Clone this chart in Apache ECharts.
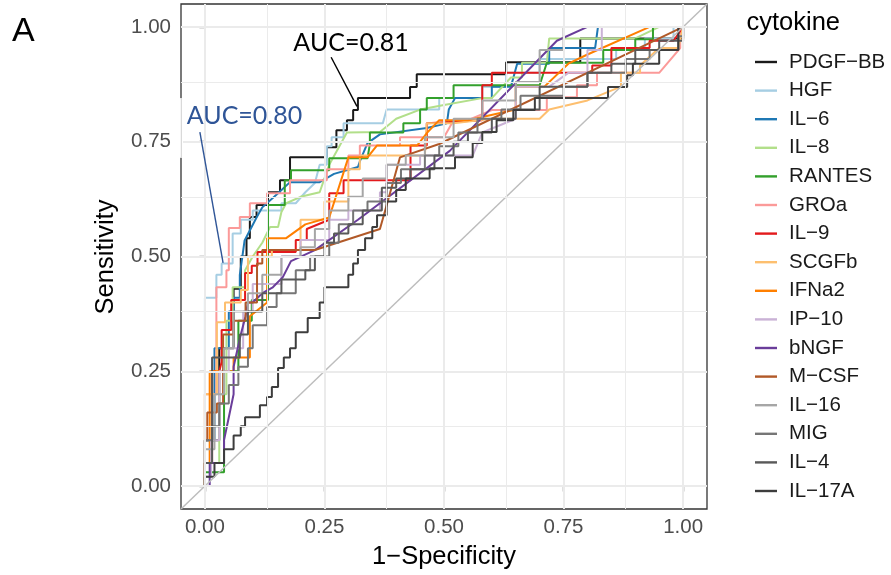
<!DOCTYPE html>
<html>
<head>
<meta charset="utf-8">
<script src="https://cdn.jsdelivr.net/npm/echarts@6/dist/echarts.min.js"></script>
<style>
  html, body { margin: 0; padding: 0; background: #ffffff; }
  #chart { width: 891px; height: 575px; }
</style>
</head>
<body>
<div id="chart"></div>
<script>
// ROC curves per cytokine: [1 - specificity, sensitivity]
const cytokines = ['PDGF\u2212BB', 'HGF', 'IL\u22126', 'IL\u22128', 'RANTES', 'GROa', 'IL\u22129', 'SCGFb',
  'IFNa2', 'IP\u221210', 'bNGF', 'M\u2212CSF', 'IL\u221216', 'MIG', 'IL\u22124', 'IL\u221217A'];
const lineColors = ['#1a1a1a', '#a6cee3', '#1f78b4', '#b2df8a', '#33a02c', '#fb9a99', '#e31a1c', '#fdbf6f',
  '#ff7f00', '#cab2d6', '#6a3d9a', '#b15928', '#a6a6a6', '#767676', '#595959', '#3d3d3d'];

const rocPDGFBB = [[0,0],[0,0.1],[0.03,0.1],[0.03,0.3],[0.06,0.3],[0.06,0.43],[0.075,0.43],[0.075,0.5],[0.087,0.5],[0.087,0.54],[0.094,0.54],[0.094,0.586],[0.108,0.586],[0.108,0.612],[0.132,0.612],[0.132,0.64],[0.157,0.64],[0.157,0.666],[0.178,0.666],[0.178,0.716],[0.255,0.716],[0.255,0.738],[0.275,0.738],[0.275,0.775],[0.297,0.775],[0.297,0.797],[0.31,0.797],[0.31,0.819],[0.32,0.819],[0.32,0.845],[0.429,0.845],[0.429,0.869],[0.443,0.869],[0.443,0.897],[0.63,0.897],[0.63,0.923],[0.785,0.923],[0.785,0.975],[1,0.975],[1,1]];
const rocHGF = [[0,0],[0,0.41],[0.024,0.41],[0.024,0.46],[0.035,0.46],[0.035,0.485],[0.058,0.485],[0.058,0.55],[0.075,0.55],[0.075,0.58],[0.1,0.58],[0.1,0.6],[0.16,0.6],[0.16,0.616],[0.19,0.616],[0.21,0.64],[0.23,0.66],[0.24,0.7],[0.255,0.7],[0.255,0.74],[0.265,0.74],[0.265,0.76],[0.29,0.76],[0.29,0.79],[0.372,0.79],[0.38,0.82],[0.49,0.82],[0.49,0.845],[0.58,0.845],[0.58,0.87],[0.63,0.87],[0.63,0.9],[0.7,0.9],[0.7,0.93],[0.86,0.93],[0.86,0.95],[0.92,0.95],[0.92,0.975],[0.98,0.975],[0.98,1],[1,1]];
const rocIL6 = [[0,0],[0,0.1],[0.02,0.1],[0.02,0.3],[0.05,0.3],[0.05,0.38],[0.06,0.38],[0.06,0.41],[0.073,0.41],[0.073,0.46],[0.083,0.535],[0.108,0.585],[0.12,0.607],[0.153,0.638],[0.178,0.662],[0.24,0.662],[0.27,0.68],[0.32,0.695],[0.325,0.71],[0.34,0.747],[0.366,0.766],[0.464,0.78],[0.506,0.79],[0.51,0.82],[0.523,0.845],[0.6,0.845],[0.6,0.87],[0.64,0.87],[0.653,0.92],[0.72,0.92],[0.72,0.954],[0.816,0.954],[0.822,1],[1,1]];
const rocIL8 = [[0,0],[0,0.05],[0.03,0.05],[0.03,0.2],[0.045,0.2],[0.045,0.36],[0.058,0.36],[0.058,0.433],[0.084,0.433],[0.084,0.47],[0.1,0.5],[0.12,0.53],[0.136,0.564],[0.153,0.564],[0.16,0.597],[0.17,0.616],[0.2,0.63],[0.24,0.64],[0.26,0.7],[0.297,0.77],[0.366,0.771],[0.4,0.8],[0.45,0.82],[0.5,0.83],[0.58,0.845],[0.6,0.845],[0.64,0.89],[0.663,0.89],[0.663,0.922],[0.715,0.922],[0.72,0.975],[0.9,0.975],[0.95,1],[1,1]];
const rocRANTES = [[0,0],[0,0.03],[0.04,0.03],[0.04,0.25],[0.07,0.25],[0.07,0.36],[0.098,0.36],[0.098,0.405],[0.132,0.405],[0.132,0.612],[0.167,0.612],[0.167,0.666],[0.18,0.666],[0.18,0.688],[0.26,0.688],[0.26,0.714],[0.34,0.714],[0.345,0.745],[0.345,0.77],[0.415,0.77],[0.415,0.79],[0.45,0.79],[0.45,0.82],[0.464,0.82],[0.464,0.845],[0.52,0.845],[0.52,0.873],[0.7,0.873],[0.715,0.922],[0.833,0.922],[0.833,0.95],[0.9,0.95],[0.9,0.973],[0.937,0.973],[0.937,1],[1,1]];
const rocGROa = [[0,0],[0,0.2],[0.024,0.2],[0.024,0.433],[0.045,0.433],[0.045,0.47],[0.05,0.47],[0.05,0.562],[0.073,0.562],[0.073,0.586],[0.094,0.586],[0.094,0.616],[0.13,0.616],[0.13,0.638],[0.178,0.638],[0.178,0.666],[0.255,0.666],[0.255,0.69],[0.3,0.69],[0.3,0.72],[0.324,0.72],[0.324,0.742],[0.408,0.742],[0.408,0.76],[0.5,0.76],[0.52,0.797],[0.55,0.797],[0.6,0.819],[0.715,0.819],[0.715,0.847],[0.778,0.847],[0.778,0.873],[0.82,0.873],[0.82,0.9],[0.95,0.9],[0.994,0.954],[0.994,1],[1,1]];
const rocIL9 = [[0,0],[0,0.05],[0.015,0.05],[0.015,0.25],[0.03,0.25],[0.035,0.27],[0.035,0.34],[0.055,0.34],[0.055,0.405],[0.084,0.405],[0.084,0.464],[0.098,0.464],[0.098,0.48],[0.11,0.48],[0.11,0.51],[0.19,0.51],[0.19,0.536],[0.213,0.536],[0.213,0.56],[0.26,0.58],[0.26,0.638],[0.29,0.638],[0.29,0.666],[0.43,0.666],[0.43,0.742],[0.464,0.742],[0.464,0.79],[0.58,0.797],[0.58,0.873],[0.6,0.873],[0.6,0.9],[0.81,0.9],[0.81,0.916],[0.85,0.916],[0.85,0.954],[0.93,0.954],[0.93,0.97],[0.98,0.97],[1,1]];
const rocSCGFb = [[0,0],[0,0.2],[0.025,0.2],[0.025,0.357],[0.042,0.357],[0.042,0.4],[0.075,0.4],[0.075,0.427],[0.09,0.427],[0.09,0.5],[0.14,0.5],[0.14,0.514],[0.2,0.514],[0.2,0.58],[0.25,0.58],[0.25,0.62],[0.3,0.62],[0.3,0.69],[0.324,0.69],[0.324,0.72],[0.46,0.72],[0.464,0.79],[0.52,0.79],[0.6,0.8],[0.7,0.8],[0.72,0.82],[0.8,0.84],[0.87,0.87],[0.87,0.9],[0.91,0.9],[0.91,0.916],[0.95,0.954],[0.99,0.954],[1,1]];
const rocIFNa2 = [[0,0],[0,0.05],[0.01,0.05],[0.01,0.25],[0.06,0.25],[0.06,0.28],[0.094,0.28],[0.094,0.37],[0.13,0.4],[0.13,0.54],[0.17,0.54],[0.21,0.57],[0.26,0.585],[0.3,0.716],[0.34,0.716],[0.36,0.742],[0.444,0.742],[0.465,0.77],[0.49,0.797],[0.55,0.797],[0.65,0.82],[0.65,0.87],[0.71,0.87],[0.76,0.92],[0.8,0.94],[0.93,1],[1,1]];
const rocIP10 = [[0,0],[0,0.02],[0.013,0.02],[0.013,0.1],[0.03,0.1],[0.03,0.25],[0.05,0.25],[0.05,0.3],[0.08,0.3],[0.08,0.38],[0.1,0.38],[0.1,0.44],[0.16,0.44],[0.16,0.5],[0.2,0.5],[0.2,0.536],[0.26,0.536],[0.26,0.58],[0.3,0.58],[0.3,0.6],[0.366,0.6],[0.366,0.64],[0.38,0.64],[0.38,0.7],[0.45,0.7],[0.45,0.72],[0.56,0.72],[0.58,0.77],[0.65,0.8],[0.65,0.87],[0.72,0.87],[0.76,0.9],[0.8,0.9],[0.8,0.95],[0.83,0.95],[0.83,1],[1,1]];
const rocBNGF = [[0,0],[0.01,0],[0.01,0.05],[0.04,0.05],[0.04,0.1],[0.05,0.15],[0.06,0.2],[0.06,0.26],[0.075,0.33],[0.085,0.37],[0.09,0.4],[0.1,0.4],[0.12,0.42],[0.142,0.433],[0.163,0.455],[0.18,0.49],[0.23,0.514],[0.32,0.58],[0.512,0.73],[0.736,0.97],[0.8,1],[1,1]];
const rocMCSF = [[0,0],[0,0.1],[0.005,0.1],[0.005,0.16],[0.025,0.16],[0.025,0.18],[0.038,0.18],[0.038,0.33],[0.06,0.33],[0.06,0.36],[0.085,0.36],[0.085,0.4],[0.109,0.4],[0.109,0.485],[0.12,0.485],[0.12,0.514],[0.23,0.514],[0.366,0.56],[0.377,0.6],[0.408,0.716],[0.49,0.745],[1,1]];
const rocIL16 = [[0,0],[0,0.08],[0.02,0.08],[0.02,0.2],[0.04,0.2],[0.04,0.3],[0.06,0.3],[0.06,0.38],[0.09,0.38],[0.09,0.42],[0.12,0.42],[0.12,0.46],[0.16,0.46],[0.16,0.5],[0.2,0.5],[0.2,0.52],[0.23,0.52],[0.23,0.56],[0.26,0.56],[0.26,0.6],[0.3,0.6],[0.3,0.63],[0.33,0.63],[0.33,0.67],[0.38,0.67],[0.38,0.7],[0.42,0.7],[0.42,0.72],[0.46,0.72],[0.46,0.76],[0.52,0.76],[0.52,0.8],[0.58,0.8],[0.58,0.84],[0.65,0.84],[0.65,0.88],[0.7,0.88],[0.7,0.95],[0.75,0.95],[0.75,1],[1,1]];
const rocMIG = [[0,0],[0,0.1],[0.015,0.1],[0.015,0.13],[0.03,0.13],[0.03,0.18],[0.05,0.18],[0.05,0.22],[0.07,0.22],[0.07,0.26],[0.09,0.26],[0.09,0.3],[0.1,0.3],[0.1,0.35],[0.13,0.35],[0.13,0.39],[0.15,0.39],[0.15,0.42],[0.19,0.42],[0.19,0.47],[0.22,0.47],[0.22,0.5],[0.26,0.5],[0.26,0.53],[0.28,0.53],[0.28,0.57],[0.31,0.57],[0.31,0.6],[0.34,0.6],[0.34,0.62],[0.38,0.62],[0.38,0.66],[0.41,0.66],[0.41,0.69],[0.46,0.69],[0.46,0.72],[0.49,0.72],[0.49,0.74],[0.53,0.74],[0.53,0.77],[0.57,0.77],[0.57,0.8],[0.62,0.8],[0.62,0.82],[0.66,0.82],[0.66,0.85],[0.75,0.85],[0.75,0.87],[0.8,0.87],[0.8,0.9],[0.88,0.9],[0.88,0.93],[0.93,0.93],[0.93,0.95],[0.99,0.95],[0.99,0.98],[1,0.98],[1,1]];
const rocIL4 = [[0,0],[0,0.05],[0.015,0.05],[0.015,0.28],[0.073,0.28],[0.073,0.33],[0.09,0.33],[0.09,0.38],[0.12,0.38],[0.12,0.42],[0.16,0.42],[0.16,0.45],[0.21,0.45],[0.21,0.47],[0.23,0.47],[0.23,0.5],[0.25,0.5],[0.25,0.53],[0.27,0.53],[0.27,0.55],[0.3,0.55],[0.3,0.57],[0.33,0.57],[0.33,0.6],[0.37,0.6],[0.37,0.65],[0.4,0.65],[0.4,0.67],[0.43,0.67],[0.43,0.69],[0.48,0.69],[0.48,0.72],[0.52,0.72],[0.52,0.75],[0.55,0.75],[0.55,0.77],[0.6,0.77],[0.6,0.8],[0.65,0.8],[0.65,0.82],[0.7,0.82],[0.7,0.87],[0.8,0.87],[0.8,0.9],[0.85,0.9],[0.85,0.92],[0.9,0.92],[0.9,0.95],[0.95,0.95],[0.95,0.97],[1,0.97],[1,1]];
const rocIL17A = [[0,0],[0,0.02],[0.02,0.02],[0.02,0.05],[0.04,0.05],[0.04,0.08],[0.06,0.08],[0.06,0.11],[0.075,0.11],[0.075,0.13],[0.084,0.13],[0.084,0.15],[0.115,0.15],[0.115,0.176],[0.13,0.176],[0.13,0.194],[0.14,0.194],[0.14,0.216],[0.153,0.216],[0.153,0.257],[0.165,0.257],[0.165,0.28],[0.178,0.28],[0.178,0.3],[0.19,0.3],[0.19,0.335],[0.215,0.335],[0.215,0.366],[0.24,0.366],[0.24,0.4],[0.25,0.4],[0.25,0.433],[0.3,0.433],[0.3,0.46],[0.31,0.46],[0.31,0.485],[0.32,0.485],[0.32,0.514],[0.335,0.514],[0.335,0.54],[0.35,0.54],[0.35,0.564],[0.36,0.564],[0.36,0.59],[0.38,0.59],[0.38,0.62],[0.4,0.62],[0.4,0.645],[0.42,0.645],[0.42,0.67],[0.47,0.67],[0.47,0.692],[0.523,0.692],[0.523,0.716],[0.56,0.716],[0.56,0.747],[0.58,0.747],[0.58,0.771],[0.61,0.771],[0.61,0.797],[0.645,0.797],[0.645,0.819],[0.69,0.819],[0.69,0.845],[0.843,0.845],[0.843,0.869],[0.883,0.869],[0.883,0.895],[0.895,0.895],[0.895,0.92],[0.95,0.92],[0.95,0.95],[0.99,0.95],[0.99,1],[1,1]];

const rocCurves = [rocPDGFBB, rocHGF, rocIL6, rocIL8, rocRANTES, rocGROa, rocIL9, rocSCGFb,
  rocIFNa2, rocIP10, rocBNGF, rocMCSF, rocIL16, rocMIG, rocIL4, rocIL17A];

// Chance line and axis breaks
const chanceLine = [[-0.05, -0.05], [1.05, 1.05]];
const majorBreaks = [0, 0.25, 0.5, 0.75, 1];
const minorBreaks = [0.125, 0.375, 0.625, 0.875];

// AUC call-outs: label anchor and leader line end points, in data units
const aucNotes = [
  { text: 'AUC=0.81', color: '#000000', labelAt: [0.185, 0.9645], from: [0.264, 0.934], to: [0.318, 0.827] },
  { text: 'AUC=0.80', color: '#2f5597', labelAt: [-0.038, 0.807], from: [-0.0105, 0.771], to: [0.038, 0.486] }
];

const FONT = "'Liberation Sans', Arial, sans-serif";
const chart = echarts.init(document.getElementById('chart'), null, { renderer: 'canvas' });

function gridLines(values, width) {
  const xs = values.map(v => ({ xAxis: v }));
  const ys = values.map(v => ({ yAxis: v }));
  return {
    type: 'line', data: [], silent: true, z: 1,
    markLine: {
      silent: true, symbol: ['none', 'none'], label: { show: false }, animation: false,
      lineStyle: { color: '#ebebeb', width: width, type: 'solid' },
      emphasis: { disabled: true },
      data: xs.concat(ys)
    }
  };
}

const curveSeries = cytokines.map((name, i) => ({
  name: name,
  type: 'line',
  data: rocCurves[i],
  symbol: 'none',
  showSymbol: false,
  clip: true,
  z: 3,
  color: lineColors[i],
  lineStyle: { color: lineColors[i], width: 2 },
  emphasis: { disabled: true }
}));

const labelFmt = v => v.toFixed(2);

chart.setOption({
  animation: false,
  backgroundColor: '#ffffff',
  grid: {
    left: 181, top: 4, width: 526, height: 505,
    show: true, borderColor: '#333333', borderWidth: 1.3, backgroundColor: 'transparent'
  },
  xAxis: {
    type: 'value', min: -0.05, max: 1.05,
    axisLine: { show: false },
    splitLine: { show: false },
    axisTick: { show: true, customValues: majorBreaks, length: 5.5, lineStyle: { color: '#333333', width: 1.3 } },
    axisLabel: { customValues: majorBreaks, formatter: labelFmt, color: '#4d4d4d', fontSize: 20.5, fontFamily: FONT, margin: 8 }
  },
  yAxis: {
    type: 'value', min: -0.05, max: 1.05,
    axisLine: { show: false },
    splitLine: { show: false },
    axisTick: { show: true, customValues: majorBreaks, length: 5.5, lineStyle: { color: '#333333', width: 1.3 } },
    axisLabel: { customValues: majorBreaks, formatter: labelFmt, color: '#4d4d4d', fontSize: 20.5, fontFamily: FONT, margin: 10 }
  },
  legend: {
    data: cytokines,
    orient: 'vertical',
    left: 750, top: 46.5,
    icon: 'rect', itemWidth: 22, itemHeight: 2.4, itemGap: 7.6,
    selectedMode: false,
    textStyle: { fontSize: 20.5, fontFamily: FONT, color: '#1a1a1a', lineHeight: 20, padding: [0, 0, 0, 7] }
  },
  series: [
    gridLines(minorBreaks, 1),
    gridLines(majorBreaks, 2)
  ].concat(curveSeries).concat([{
    name: 'chance', type: 'line', data: chanceLine, symbol: 'none', silent: true, z: 4,
    lineStyle: { color: '#bdbdbd', width: 1.5 }, emphasis: { disabled: true }
  }])
});

// Titles and AUC call-outs placed through the grid's coordinate conversion
const px = p => chart.convertToPixel({ gridIndex: 0 }, p);
const boxTop = px([0, 0.845])[1], boxBottom = px([0, 0.715])[1];
const elements = [
  { type: 'text', left: 12, top: 15, style: { text: 'A', fontSize: 34, fontFamily: FONT, fill: '#000000' } },
  { type: 'text', x: 746.5, y: 23, style: { text: 'cytokine', fontSize: 25.5, fontFamily: FONT, fill: '#000000', textVerticalAlign: 'middle' } },
  { type: 'text', x: 444, y: 557, style: { text: '1\u2212Specificity', fontSize: 25.5, fontFamily: FONT, fill: '#000000', textAlign: 'center', textVerticalAlign: 'middle' } },
  { type: 'text', x: 106, y: 257, rotation: Math.PI / 2, style: { text: 'Sensitivity', fontSize: 25.5, fontFamily: FONT, fill: '#000000', textAlign: 'center', textVerticalAlign: 'middle' } },
  // white text box behind the blue call-out, covering the panel edge
  { type: 'rect', z: 9, shape: { x: 179.5, y: boxTop, width: 3.5, height: boxBottom - boxTop }, style: { fill: '#ffffff' } },
  { type: 'line', z: 9, shape: { x1: 181.3, y1: boxTop, x2: 181.3, y2: boxBottom }, style: { stroke: '#d0d0d0', lineWidth: 1 } }
];
aucNotes.forEach(note => {
  const a = px(note.from), b = px(note.to), t = px(note.labelAt);
  elements.push({ type: 'line', z: 10, shape: { x1: a[0], y1: a[1], x2: b[0], y2: b[1] }, style: { stroke: note.color, lineWidth: 1.4 } });
  elements.push({ type: 'text', z: 11, x: t[0], y: t[1], style: { text: note.text, fontSize: 25, fontFamily: "Lato, 'Open Sans', sans-serif", fill: note.color, textVerticalAlign: 'middle' } });
});
chart.setOption({ graphic: elements });
</script>
</body>
</html>
